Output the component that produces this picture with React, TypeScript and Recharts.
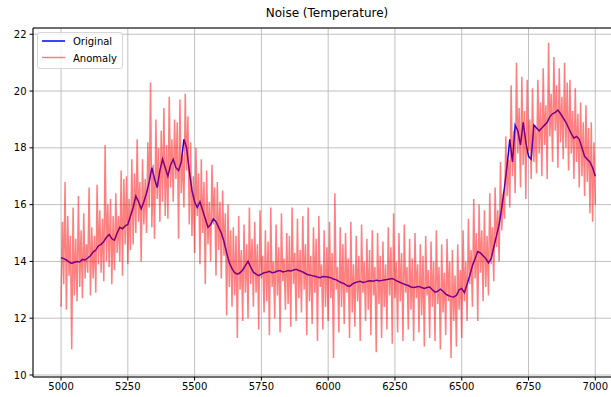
import React from 'react';
import { LineChart, Line, XAxis, YAxis, CartesianGrid, ReferenceLine } from 'recharts';

// x positions: original every 10, anomaly every 5, both from 5000 to 7000
const ORIGINAL_START = 5000;
const ORIGINAL_STEP = 10;
const ANOMALY_START = 5000;
const ANOMALY_STEP = 5;

const originalValues = [
  14.13, 14.1, 14.05, 13.98, 13.93, 13.97, 14.0, 13.98, 14.07, 14.05,
  14.12, 14.2, 14.33, 14.4, 14.55, 14.6, 14.7, 14.85, 14.95, 14.8,
  14.75, 15.0, 15.2, 15.15, 15.25, 15.3, 15.6, 15.9, 16.3, 16.1,
  15.85, 16.1, 16.4, 16.8, 17.3, 16.9, 16.6, 17.2, 17.6, 17.3,
  17.0, 17.4, 17.6, 17.3, 17.2, 17.5, 18.3, 18.0, 17.2, 16.5,
  16.1, 15.9, 16.1, 15.8, 15.5, 15.2, 15.3, 15.5, 15.4, 15.2,
  15.0, 14.7, 14.3, 13.95, 13.75, 13.6, 13.55, 13.6, 13.7, 13.85,
  14.0, 13.8, 13.62, 13.55, 13.5, 13.55, 13.6, 13.62, 13.65, 13.6,
  13.62, 13.66, 13.68, 13.63, 13.65, 13.68, 13.66, 13.7, 13.72, 13.68,
  13.65, 13.6, 13.55, 13.52, 13.5, 13.48, 13.45, 13.43, 13.47, 13.46,
  13.45, 13.42, 13.38, 13.35, 13.3, 13.25, 13.22, 13.15, 13.12, 13.2,
  13.25, 13.28, 13.3, 13.26, 13.28, 13.31, 13.32, 13.3, 13.34, 13.32,
  13.33, 13.35, 13.36, 13.38, 13.4, 13.35, 13.3, 13.26, 13.22, 13.18,
  13.15, 13.1, 13.08, 13.1, 13.12, 13.08, 13.05, 13.08, 13.1, 13.0,
  12.92, 12.95, 13.02, 12.95, 12.85, 12.8, 12.76, 12.75, 12.8, 13.0,
  13.05, 12.9, 13.2, 13.5, 13.85, 14.1, 14.35, 14.3, 14.2, 14.1,
  13.95, 14.1, 14.5, 14.9, 15.3, 15.9, 16.6, 17.4, 18.3, 17.5,
  18.8, 18.6, 18.1, 18.9, 18.2, 17.7, 17.6, 18.8, 18.7, 18.6,
  18.7, 18.8, 18.9, 19.1, 19.2, 19.25, 19.33, 19.2, 19.05, 18.9,
  18.7, 18.5, 18.34, 18.4, 18.3, 18.0, 17.7, 17.6, 17.5, 17.3,
  17.0,
];

const anomalyValues = [
  12.4, 15.4, 13.2, 16.8, 12.3, 15.6, 13.5, 14.9, 10.9, 15.9, 12.8, 14.8, 12.6, 16.3, 13.1, 15.1, 12.7, 15.7, 13.4, 14.6,
  13.6, 16.6, 12.8, 15.2, 13.4, 14.9, 12.9, 16.7, 13.9, 15.8, 13.6, 15.5, 13.3, 18.1, 14.0, 16.0, 13.8, 16.2, 13.2, 15.6,
  13.7, 16.4, 14.3, 15.6, 14.0, 17.2, 13.5, 16.9, 14.6, 17.0, 13.9, 16.2, 14.4, 17.6, 14.6, 17.1, 15.0, 18.3, 15.4, 16.8,
  14.0, 17.6, 15.3, 16.9, 15.0, 18.2, 15.9, 20.3, 15.2, 17.4, 14.8, 19.0, 16.2, 18.0, 15.4, 18.6, 16.1, 19.4, 15.6, 18.1,
  15.5, 19.8, 16.6, 18.3, 16.1, 19.0, 16.9, 18.9, 14.8, 19.7, 16.4, 17.8, 15.9, 19.9, 17.2, 19.1, 15.3, 18.2, 14.9, 17.0,
  14.3, 18.0, 15.6, 17.1, 13.9, 17.6, 15.0, 16.8, 13.2, 17.2, 14.6, 16.1, 14.0, 17.4, 15.3, 16.6, 13.5, 16.8, 14.4, 16.1,
  13.4, 16.5, 14.2, 15.7, 12.1, 16.0, 13.1, 15.1, 12.4, 15.2, 12.8, 14.9, 11.3, 15.6, 13.0, 14.4, 11.9, 15.3, 12.9, 14.6,
  12.0, 15.9, 13.2, 14.8, 12.4, 15.4, 12.9, 14.6, 11.6, 15.8, 13.4, 14.2, 12.2, 15.1, 12.6, 14.7, 11.4, 15.9, 13.1, 14.0,
  12.0, 15.3, 12.8, 14.5, 11.5, 15.7, 13.3, 14.1, 12.3, 15.0, 12.5, 14.9, 11.7, 15.9, 13.2, 14.3, 11.9, 15.5, 12.7, 14.4,
  12.2, 15.6, 13.0, 14.6, 11.4, 15.9, 12.6, 14.2, 11.8, 15.2, 12.9, 14.8, 11.2, 15.6, 13.1, 13.9, 11.6, 15.1, 12.4, 14.5,
  11.9, 15.4, 12.7, 14.3, 10.6, 16.4, 13.0, 13.8, 11.5, 15.2, 12.4, 14.6, 11.8, 15.0, 12.9, 14.1, 11.3, 15.4, 12.2, 13.9,
  11.7, 14.9, 12.6, 14.2, 11.2, 15.3, 12.9, 14.0, 11.9, 14.8, 12.3, 14.4, 11.4, 15.1, 12.8, 13.8, 10.8, 15.0, 12.5, 14.2,
  11.3, 14.7, 12.4, 13.9, 11.6, 15.2, 12.8, 14.5, 11.1, 15.7, 12.7, 14.0, 11.5, 15.0, 12.6, 14.3, 11.2, 15.3, 12.9, 13.8,
  11.6, 14.8, 12.3, 14.1, 11.2, 15.0, 12.7, 13.9, 11.5, 14.6, 12.1, 14.2, 11.0, 14.9, 12.8, 13.7, 11.3, 14.7, 12.4, 14.0,
  11.2, 15.1, 12.5, 13.8, 10.9, 14.6, 12.2, 13.6, 11.4, 14.8, 12.6, 14.0, 10.6, 14.4, 11.9, 13.5, 11.0, 14.6, 12.3, 13.7,
  11.3, 15.1, 12.6, 14.0, 11.9, 15.5, 13.2, 14.4, 12.4, 16.2, 13.4, 15.0, 11.9, 16.0, 13.6, 15.1, 12.6, 15.8, 13.1, 14.9,
  12.8, 16.4, 13.9, 15.2, 13.3, 16.6, 14.5, 15.8, 14.0, 17.5, 15.1, 16.4, 15.5, 18.4, 16.3, 17.6, 15.9, 20.2, 17.0, 18.6,
  16.4, 21.0, 17.8, 19.4, 16.6, 20.5, 17.4, 19.3, 16.2, 20.4, 17.9, 19.0, 16.9, 20.1, 17.5, 18.8, 17.1, 20.4, 17.8, 19.6,
  17.0, 20.8, 18.1, 19.5, 16.9, 21.7, 18.4, 19.9, 17.5, 21.2, 18.6, 20.2, 17.3, 20.8, 18.2, 19.8, 17.6, 21.0, 18.0, 20.3,
  17.2, 20.4, 17.8, 19.3, 16.9, 20.1, 17.5, 19.2, 16.6, 19.6, 17.0, 18.9, 16.3, 19.5, 16.8, 18.7, 15.7, 18.9, 15.4, 18.2,
  16.0,
];

const xTicks = [5000, 5250, 5500, 5750, 6000, 6250, 6500, 6750, 7000];
const yTicks = [10, 12, 14, 16, 18, 20, 22];

const X_DOMAIN: [number, number] = [4895, 7100];
const Y_DOMAIN: [number, number] = [9.93, 22.22];

const originalData = originalValues.map((v, i) => ({ x: ORIGINAL_START + i * ORIGINAL_STEP, y: v }));
const anomalyData = anomalyValues.map((v, i) => ({ x: ANOMALY_START + i * ANOMALY_STEP, y: v }));

const FONT = '"DejaVu Sans", sans-serif';

const Legend = () => (
  <div
    style={{
      position: 'absolute',
      left: 37,
      top: 32,
      width: 84,
      height: 35,
      border: '1px solid #d6d6d6',
      borderRadius: 3,
      background: 'rgba(255,255,255,0.8)',
      fontFamily: FONT,
      fontSize: 10,
      color: '#000',
    }}
  >
    <svg width={84} height={35} style={{ position: 'absolute', left: 0, top: 0 }}>
      <line x1={4} x2={27} y1={8} y2={8} stroke="#0000ff" strokeWidth={1.5} />
      <line x1={4} x2={27} y1={24.5} y2={24.5} stroke="#ff0000" strokeOpacity={0.5} strokeWidth={1.5} />
      <text x={35} y={12} fontSize={10} fontFamily={FONT}>Original</text>
      <text x={35} y={28.5} fontSize={10} fontFamily={FONT}>Anomaly</text>
    </svg>
  </div>
);

export default function App() {
  return (
    <div style={{ position: 'absolute', left: 0, top: 0, width: 611, height: 397, overflow: 'hidden', background: '#fff' }}>
      <div
        style={{
          position: 'absolute',
          left: 0,
          width: 654,
          top: 6,
          textAlign: 'center',
          fontFamily: FONT,
          fontSize: 12,
          color: '#000',
        }}
      >
        Noise (Temperature)
      </div>
      <LineChart
        width={640}
        height={397}
        margin={{ top: 28, right: 18, bottom: 0, left: 0 }}
        style={{ fontFamily: FONT }}
      >
        <CartesianGrid stroke="#b0b0b0" strokeWidth={0.8} />
        <XAxis
          dataKey="x"
          type="number"
          domain={X_DOMAIN}
          ticks={xTicks}
          allowDataOverflow
          height={20}
          tickSize={3.5}
          tickMargin={2}
          stroke="#000"
          tick={{ fill: '#000', fontSize: 10, fontFamily: FONT }}
        />
        <YAxis
          type="number"
          domain={Y_DOMAIN}
          ticks={yTicks}
          allowDataOverflow
          width={33}
          tickSize={3.5}
          tickMargin={3}
          stroke="#000"
          tick={{ fill: '#000', fontSize: 10, fontFamily: FONT }}
        />
        <ReferenceLine y={Y_DOMAIN[1]} stroke="#000" strokeWidth={1} ifOverflow="visible" />
        <Line
          data={originalData}
          dataKey="y"
          name="Original"
          type="linear"
          stroke="#0000ff"
          strokeWidth={1.5}
          dot={false}
          isAnimationActive={false}
        />
        <Line
          data={anomalyData}
          dataKey="y"
          name="Anomaly"
          type="linear"
          stroke="#ff0000"
          strokeOpacity={0.5}
          strokeWidth={1.5}
          dot={false}
          isAnimationActive={false}
        />
      </LineChart>
      <Legend />
    </div>
  );
}
